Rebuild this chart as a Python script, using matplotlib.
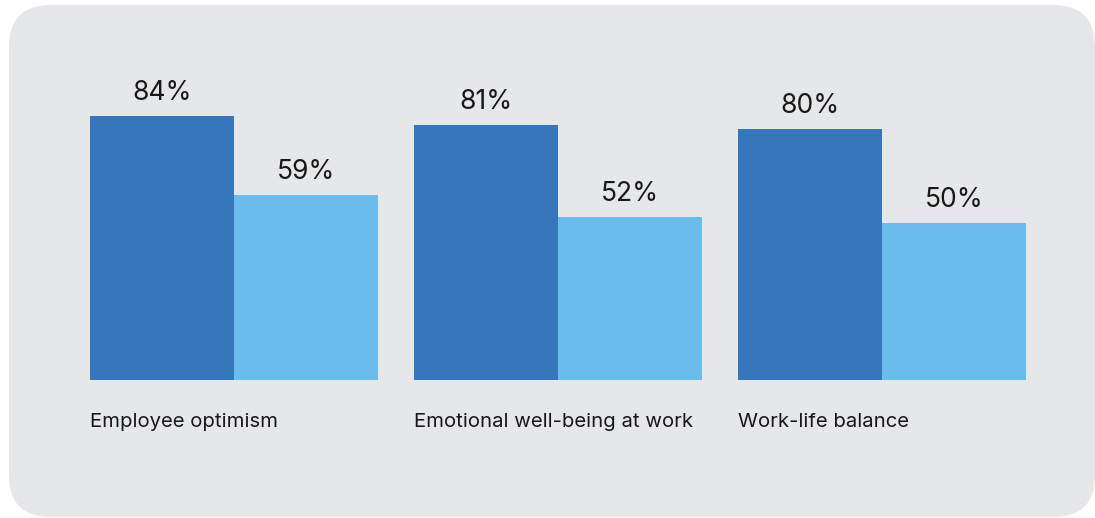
import matplotlib
matplotlib.use("Agg")
import matplotlib.pyplot as plt
from matplotlib.patches import FancyBboxPatch

categories = ["Employee optimism", "Emotional well-being at work", "Work-life balance"]
series_a = [84, 81, 80]
series_b = [59, 52, 50]

DARK = "#3677BB"
LIGHT = "#6ABDEB"
PANEL = "#E6E7E9"
TEXT = "#181818"

plt.rcParams["font.family"] = ["Inter", "DejaVu Sans"]

W, H = 1095, 518
fig = plt.figure(figsize=(W / 100, H / 100), dpi=100)
fig.patch.set_facecolor("white")

# rounded grey panel behind the chart
px0, py0, px1, py1 = 9, 5, 1095, 517
panel = FancyBboxPatch((px0 / W, (H - py1) / H), (px1 - px0) / W, (py1 - py0) / H,
                       boxstyle="round,pad=0,rounding_size=0.038",
                       transform=fig.transFigure, facecolor=PANEL,
                       edgecolor="none", mutation_aspect=W / H, zorder=-10)
fig.patches.append(panel)

# axes: baseline at y=380px, 100% spans 314px
base_px = 380
ppu = 3.143
left_px, right_px = 90, 1026
ax = fig.add_axes([left_px / W, (H - base_px) / H,
                   (right_px - left_px) / W, 100 * ppu / H])
ax.set_facecolor("none")
ax.set_zorder(5)

step = 2.25
n = len(categories)
xa = [i * step for i in range(n)]
xb = [i * step + 1 for i in range(n)]
ax.bar(xa, series_a, width=1, align="edge", color=DARK, linewidth=0)
ax.bar(xb, series_b, width=1, align="edge", color=LIGHT, linewidth=0)
ax.set_xlim(0, (n - 1) * step + 2)
ax.set_ylim(0, 100)
ax.axis("off")

for x, v in zip(xa + xb, series_a + series_b):
    ax.annotate(f"{v}%", (x + 0.5, v), xytext=(0, 11.5),
                textcoords="offset points", ha="center", va="baseline",
                fontsize=19, color=TEXT, annotation_clip=False)

for x, c in zip(xa, categories):
    ax.annotate(c, (x, 0), xytext=(0, -30.5), textcoords="offset points",
                ha="left", va="center", fontsize=14.6, color=TEXT,
                annotation_clip=False)

fig.savefig("out.png", dpi=100)
